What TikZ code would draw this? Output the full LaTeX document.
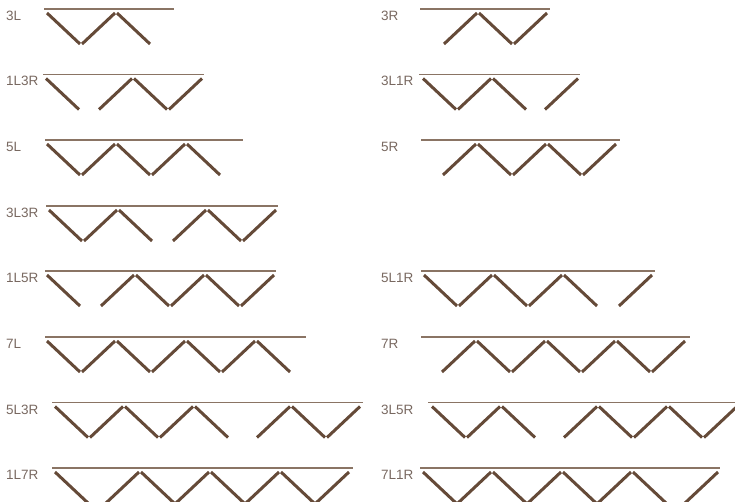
\documentclass[tikz,border=0pt]{standalone}
\usepackage{fontspec}
\setmainfont{Liberation Sans}
\definecolor{StitchBrown}{HTML}{654A38}
\definecolor{RuleBrown}{HTML}{8A7464}
\definecolor{TagGrey}{HTML}{786860}

\begin{document}
\begin{tikzpicture}[
  x=1pt,y=-1pt,
  every node/.style={font=\fontsize{13.5}{16}\selectfont},
  tag/.style={anchor=base west,inner sep=0pt,text=TagGrey},
  rule/.style={RuleBrown,line width=1.1pt},
  zig/.style={StitchBrown,line width=3pt}
]
\useasboundingbox (0,0) rectangle (735,502);

\node[tag] (t3L) at (6,20.5) {3L};
\node[tag] (t3R) at (381,20.5) {3R};
\node[tag] (t1L3R) at (6,86) {1L3R};
\node[tag] (t3L1R) at (381,86) {3L1R};
\node[tag] (t5L) at (6,151.5) {5L};
\node[tag] (t5R) at (381,151.5) {5R};
\node[tag] (t3L3R) at (6,217.5) {3L3R};
\node[tag] (t1L5R) at (6,282.5) {1L5R};
\node[tag] (t5L1R) at (381,282.5) {5L1R};
\node[tag] (t7L) at (6,348.5) {7L};
\node[tag] (t7R) at (381,348.5) {7R};
\node[tag] (t5L3R) at (6,414) {5L3R};
\node[tag] (t3L5R) at (381,414) {3L5R};
\node[tag] (t1L7R) at (6,479.5) {1L7R};
\node[tag] (t7L1R) at (381,479.5) {7L1R};

\draw[rule] (44,9) -- (174,9);
\draw[zig] (47,13) -- ++(33,31) ++(2,0) -- ++(33,-31) ++(2,0) -- ++(33,31);
\draw[rule] (420,9) -- (550,9);
\draw[zig] (444,44) -- ++(33,-31) ++(2,0) -- ++(33,31) ++(2,0) -- ++(33,-31);

\draw[rule] (43,74.5) -- (204,74.5);
\draw[zig] (46,78.5) -- ++(33,31) ++(20,0) -- ++(33,-31) ++(2,0) -- ++(33,31)
  ++(2,0) -- ++(33,-31);
\draw[rule] (419,74.5) -- (580,74.5);
\draw[zig] (423,78.5) -- ++(33,31) ++(2,0) -- ++(33,-31) ++(2,0) -- ++(33,31)
  ++(19,0) -- ++(33,-31);

\draw[rule] (45,140) -- (243,140);
\draw[zig] (47,144) -- ++(33,31) ++(2,0) -- ++(33,-31) ++(2,0) -- ++(33,31)
  ++(2,0) -- ++(33,-31) ++(2,0) -- ++(33,31);
\draw[rule] (421,140) -- (620,140);
\draw[zig] (443,175) -- ++(33,-31) ++(2,0) -- ++(33,31) ++(2,0) -- ++(33,-31)
  ++(2,0) -- ++(33,31) ++(2,0) -- ++(33,-31);

\draw[rule] (46,206) -- (278,206);
\draw[zig] (49,210) -- ++(33,31) ++(2,0) -- ++(33,-31) ++(2,0) -- ++(33,31)
  ++(21,0) -- ++(33,-31) ++(2,0) -- ++(33,31) ++(2,0) -- ++(33,-31);

\draw[rule] (45,271) -- (276,271);
\draw[zig] (47,275) -- ++(33,31) ++(21,0) -- ++(33,-31) ++(2,0) -- ++(33,31)
  ++(2,0) -- ++(33,-31) ++(2,0) -- ++(33,31) ++(2,0) -- ++(33,-31);
\draw[rule] (421,271) -- (655,271);
\draw[zig] (424,275) -- ++(33,31) ++(2,0) -- ++(33,-31) ++(2,0) -- ++(33,31)
  ++(2,0) -- ++(33,-31) ++(2,0) -- ++(33,31) ++(22,0) -- ++(33,-31);

\draw[rule] (45,337) -- (306,337);
\draw[zig] (47,341) -- ++(33,31) ++(2,0) -- ++(33,-31) ++(2,0) -- ++(33,31)
  ++(2,0) -- ++(33,-31) ++(2,0) -- ++(33,31) ++(2,0) -- ++(33,-31)
  ++(2,0) -- ++(33,31);
\draw[rule] (421,337) -- (690,337);
\draw[zig] (442,372) -- ++(33,-31) ++(2,0) -- ++(33,31) ++(2,0) -- ++(33,-31)
  ++(2,0) -- ++(33,31) ++(2,0) -- ++(33,-31) ++(2,0) -- ++(33,31)
  ++(2,0) -- ++(33,-31);

\draw[rule] (52,402.5) -- (363,402.5);
\draw[zig] (55,406.5) -- ++(33,31) ++(2,0) -- ++(33,-31) ++(2,0) -- ++(33,31)
  ++(2,0) -- ++(33,-31) ++(2,0) -- ++(33,31) ++(29,0) -- ++(33,-31)
  ++(2,0) -- ++(33,31) ++(2,0) -- ++(33,-31);
\draw[rule] (428,402.5) -- (740,402.5);
\draw[zig] (432,406.5) -- ++(33,31) ++(2,0) -- ++(33,-31) ++(2,0) -- ++(33,31)
  ++(29,0) -- ++(33,-31) ++(2,0) -- ++(33,31) ++(2,0) -- ++(33,-31)
  ++(2,0) -- ++(33,31) ++(2,0) -- ++(33,-31);

\draw[rule] (52,468) -- (353,468);
\draw[zig] (55,472) -- ++(33,31) ++(18,0) -- ++(33,-31) ++(2,0) -- ++(33,31)
  ++(2,0) -- ++(33,-31) ++(2,0) -- ++(33,31) ++(2,0) -- ++(33,-31)
  ++(2,0) -- ++(33,31) ++(2,0) -- ++(33,-31);
\draw[rule] (420,468) -- (720,468);
\draw[zig] (423,472) -- ++(33,31) ++(2,0) -- ++(33,-31) ++(2,0) -- ++(33,31)
  ++(2,0) -- ++(33,-31) ++(2,0) -- ++(33,31) ++(2,0) -- ++(33,-31)
  ++(2,0) -- ++(33,31) ++(19,0) -- ++(33,-31);
\end{tikzpicture}
\end{document}
